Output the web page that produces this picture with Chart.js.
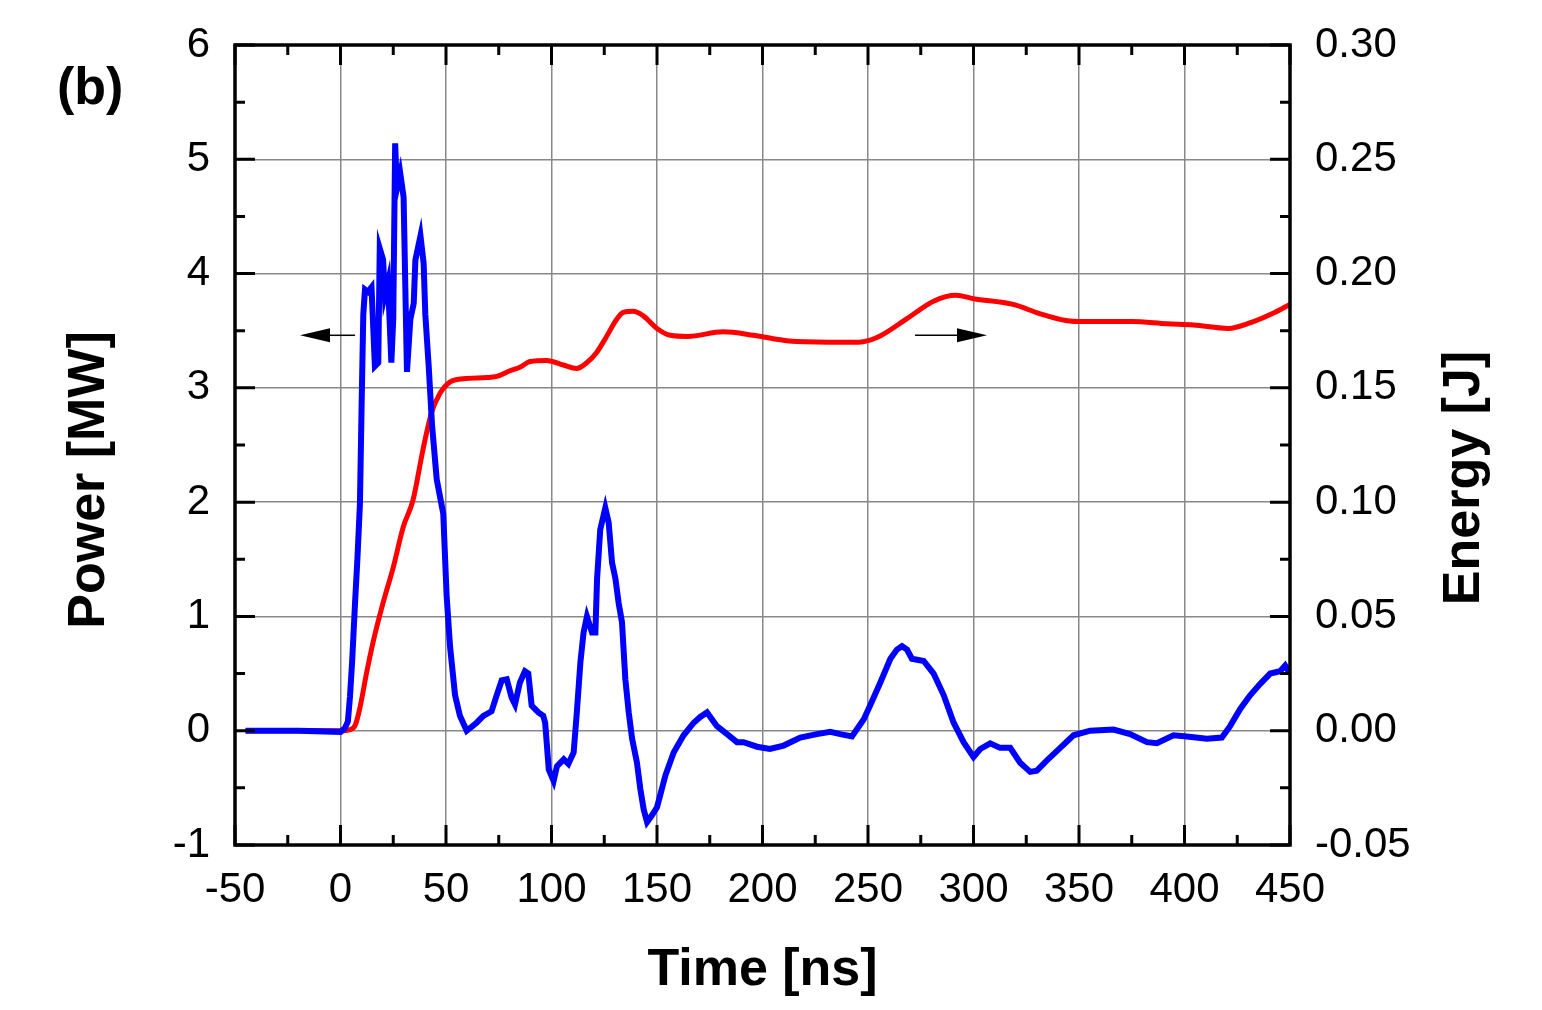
<!DOCTYPE html>
<html>
<head>
<meta charset="utf-8">
<script src="https://cdn.jsdelivr.net/npm/chart.js@4.4.1/dist/chart.umd.min.js"></script>
<style>
html,body{margin:0;padding:0;background:#fff;}
</style>
</head>
<body>
<canvas id="powerChart" width="1542" height="1010"></canvas>
<script>
// time axis [ns] and measured laser power [MW]
const powerTime = [-45,-20,0,2,3.5,4.5,5.5,6.9,8,9.2,10,10.8,11.6,13,14.7,16.3,17.9,18.6,20.2,21,22.5,24.1,25,25.9,26.7,28.3,29.9,31.5,33.1,34.7,35.5,37.9,39.4,40.2,41.8,43.4,45.6,48.7,50.3,51.9,54.3,56.6,59.8,64.5,67.7,71.6,74,76.4,78.8,81.1,82.7,85,87.4,89,90.6,93.8,96.1,97,98.7,101,102.6,105.8,108,110.5,112,113.7,115.2,116.8,119.2,120.8,121.6,123.1,125.5,127.1,128.7,130.3,131.8,133.4,135,136.6,138.2,140.5,142.1,143.7,145.3,147.6,150,154,157.9,162.6,167.4,170.5,173.7,178.4,183.2,187.9,191,197.4,203.5,210,217.9,225.8,232.1,236.9,242.4,248,251,255.8,260.6,263.7,266.1,268.5,270.8,276.4,281.1,285.9,290.6,295.3,300,303.2,307.9,312.6,317.4,322.1,326.9,330,334.8,341.1,347.4,355.3,366.4,374.2,382.2,386.9,394.8,401.1,410.6,417.7,421.6,426.4,431.1,435.9,440.6,445.3,447.7,450];
const powerMW = [0,0,-0.01,0.02,0.08,0.3,0.6,1.12,1.5,1.98,2.84,3.64,3.86,3.84,3.88,3.19,3.22,4.22,4.12,3.81,3.93,3.22,3.6,5.14,4.74,4.88,4.67,3.14,3.6,3.74,4.12,4.33,4.09,3.64,3.19,2.67,2.2,1.9,1.18,0.74,0.31,0.13,0,0.07,0.13,0.17,0.31,0.44,0.45,0.29,0.23,0.42,0.52,0.5,0.22,0.16,0.13,0.07,-0.34,-0.44,-0.31,-0.25,-0.29,-0.19,0.16,0.6,0.86,1.0,0.86,0.86,1.33,1.76,1.95,1.82,1.47,1.33,1.12,0.95,0.45,0.16,-0.07,-0.28,-0.51,-0.69,-0.8,-0.74,-0.67,-0.39,-0.19,-0.04,0.07,0.12,0.16,0.04,-0.03,-0.1,-0.1,-0.14,-0.16,-0.13,-0.06,-0.03,-0.01,-0.03,-0.05,0.1,0.22,0.42,0.63,0.71,0.74,0.71,0.63,0.61,0.5,0.31,0.07,-0.1,-0.23,-0.16,-0.11,-0.15,-0.15,-0.28,-0.36,-0.35,-0.26,-0.15,-0.04,0,0.01,-0.03,-0.1,-0.11,-0.04,-0.05,-0.07,-0.06,0.04,0.19,0.31,0.41,0.5,0.52,0.57,0.5];

// integrated pulse energy [J]
const energyTime = [-45,0,4.5,7,9.2,12.3,15.5,20.2,25,29.7,34.4,39.2,43.1,47.1,51.8,58.2,69.3,74,80.3,85,89.8,97.7,105.6,111.9,116.7,121.4,126.1,130.9,134,138.8,143.5,150,156.3,164.6,181.3,195.8,212.5,231.3,245.8,254.2,268.8,281.3,291.7,300,318.8,331.3,343.8,352,375,391.7,404.2,420.8,431.3,441.7,450];
const energyJ = [0,0,0.0005,0.0025,0.010,0.025,0.039,0.056,0.0715,0.089,0.101,0.1235,0.139,0.1475,0.1525,0.154,0.1545,0.155,0.1575,0.159,0.1615,0.162,0.160,0.1585,0.161,0.1655,0.1725,0.180,0.183,0.1835,0.1815,0.176,0.173,0.1725,0.1745,0.173,0.1705,0.170,0.170,0.172,0.1805,0.188,0.1905,0.189,0.1865,0.1825,0.1795,0.179,0.179,0.178,0.1775,0.176,0.1785,0.1825,0.1865];

const timeTicks = [-50,0,50,100,150,200,250,300,350,400,450];
const powerTicks = [-1,0,1,2,3,4,5,6];
const energyTicks = [-0.05,0,0.05,0.10,0.15,0.20,0.25,0.30];

const tickFont = { family: "'Liberation Sans', Arial, sans-serif", size: 42 };
const titleFont = { family: "'Liberation Sans', Arial, sans-serif", size: 52, weight: "bold" };

// frame, inward ticks, arrows and the side titles
const framePlugin = {
    id: "frame",
    afterDatasetsDraw(chart){
        const { ctx, chartArea: a, scales } = chart;
        const x = scales.x, y = scales.y;
        ctx.save();
        ctx.strokeStyle = "#000";
        ctx.lineWidth = 3.5;
        ctx.strokeRect(a.left, a.top, a.right - a.left, a.bottom - a.top);

        ctx.lineWidth = 3;
        ctx.beginPath();
        timeTicks.forEach((v, i) => {
            const px = x.getPixelForValue(v);
            ctx.moveTo(px, a.bottom); ctx.lineTo(px, a.bottom - 20);
            ctx.moveTo(px, a.top); ctx.lineTo(px, a.top + 20);
            if(i < timeTicks.length - 1){
                const m = x.getPixelForValue((v + timeTicks[i+1]) / 2);
                ctx.moveTo(m, a.bottom); ctx.lineTo(m, a.bottom - 10);
                ctx.moveTo(m, a.top); ctx.lineTo(m, a.top + 10);
            }
        });
        powerTicks.forEach((v, i) => {
            const py = y.getPixelForValue(v);
            ctx.moveTo(a.left, py); ctx.lineTo(a.left + 20, py);
            ctx.moveTo(a.right, py); ctx.lineTo(a.right - 20, py);
            if(i < powerTicks.length - 1){
                const m = y.getPixelForValue((v + powerTicks[i+1]) / 2);
                ctx.moveTo(a.left, m); ctx.lineTo(a.left + 10, m);
                ctx.moveTo(a.right, m); ctx.lineTo(a.right - 10, m);
            }
        });
        ctx.stroke();

        // arrows pointing to each curve's axis
        const arrow = (t1, t2, p) => {
            const x1 = x.getPixelForValue(t1), x2 = x.getPixelForValue(t2);
            const py = y.getPixelForValue(p);
            const dir = Math.sign(x2 - x1);
            ctx.lineWidth = 1.5;
            ctx.beginPath();
            ctx.moveTo(x1, py); ctx.lineTo(x2 - dir * 28, py);
            ctx.stroke();
            ctx.beginPath();
            ctx.moveTo(x2, py);
            ctx.lineTo(x2 - dir * 30, py - 7);
            ctx.lineTo(x2 - dir * 30, py + 7);
            ctx.closePath();
            ctx.fillStyle = "#000";
            ctx.fill();
        };
        arrow(6.9, -19.2, 3.46);
        arrow(272.3, 306.4, 3.46);

        ctx.fillStyle = "#000";
        ctx.font = "bold 52px 'Liberation Sans', Arial, sans-serif";
        ctx.textAlign = "center";
        ctx.textBaseline = "middle";
        [["Power [MW]", 90, 480], ["Energy [J]", 1465, 478]].forEach(([txt, cx, cy]) => {
            ctx.save();
            ctx.translate(cx, cy);
            ctx.rotate(-Math.PI / 2);
            ctx.fillText(txt, 0, 0);
            ctx.restore();
        });

        ctx.textAlign = "left";
        ctx.fillText("(b)", 57, 90);
        ctx.restore();
    }
};

const ctx = document.getElementById("powerChart").getContext("2d");

const chart = new Chart(ctx,{
    type:"line",
    data:{
        datasets:[
            {
                label:"Power",
                data: powerTime.map((t,i)=>({ x:t, y:powerMW[i] })),
                yAxisID:"y",
                borderColor:"#0000ff",
                borderWidth:6,
                pointRadius:0,
                tension:0
            },
            {
                label:"Energy",
                data: energyTime.map((t,i)=>({ x:t, y:energyJ[i] })),
                yAxisID:"y2",
                borderColor:"#ff0000",
                borderWidth:5,
                pointRadius:0,
                cubicInterpolationMode:"monotone"
            }
        ]
    },
    options:{
        responsive:false,
        animation:false,
        devicePixelRatio:1,
        layout:{ padding:{ top:45, left:0, right:0, bottom:0 } },
        plugins:{ legend:{ display:false }, tooltip:{ enabled:false } },
        scales:{
            x:{
                type:"linear",
                min:-50, max:450,
                afterBuildTicks: s => { s.ticks = timeTicks.map(v=>({ value:v })); },
                afterFit: s => { s.height = 165; s.paddingLeft = 0; s.paddingRight = 0; },
                grid:{ color:"#888", lineWidth:1.5, drawTicks:false },
                border:{ display:false },
                ticks:{ font:tickFont, color:"#000", padding:20, maxRotation:0 },
                title:{ display:true, text:"Time [ns]", font:titleFont, color:"#000", padding:{ top:0, bottom:8 } }
            },
            y:{
                position:"left",
                min:-1, max:6,
                afterBuildTicks: s => { s.ticks = powerTicks.map(v=>({ value:v })); },
                afterFit: s => { s.width = 235; s.paddingTop = 0; s.paddingBottom = 0; },
                grid:{ color:"#888", lineWidth:1.5, drawTicks:false },
                border:{ display:false },
                ticks:{ font:tickFont, color:"#000", padding:25 }
            },
            y2:{
                position:"right",
                min:-0.05, max:0.30,
                afterBuildTicks: s => { s.ticks = energyTicks.map(v=>({ value:v })); },
                afterFit: s => { s.width = 252; s.paddingTop = 0; s.paddingBottom = 0; },
                grid:{ display:false, drawTicks:false },
                border:{ display:false },
                ticks:{ font:tickFont, color:"#000", padding:25, callback: v => v.toFixed(2) }
            }
        }
    },
    plugins:[framePlugin]
});
</script>
</body>
</html>
